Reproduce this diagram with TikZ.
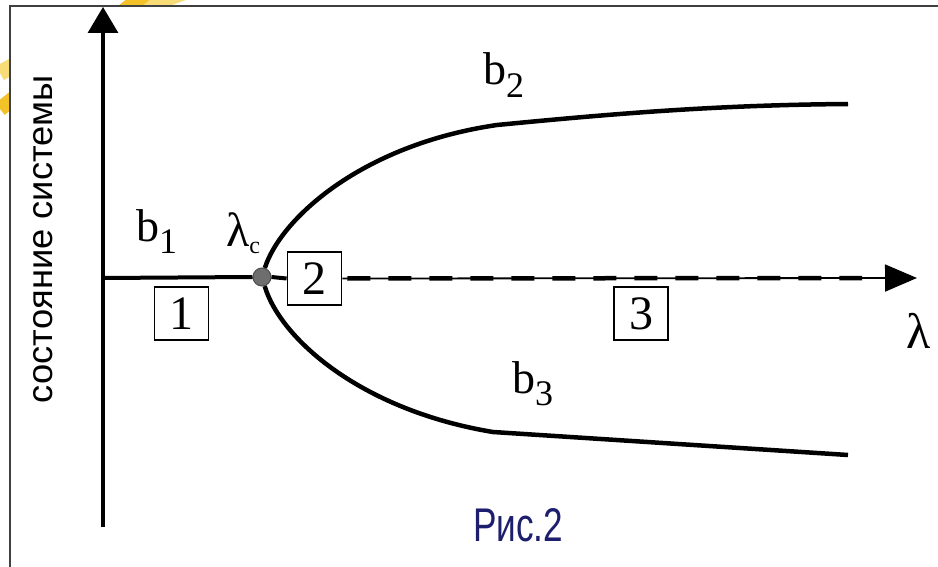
\documentclass[tikz,border=0pt]{standalone}
\usepackage{fontspec}
\setmainfont{Liberation Serif}
\setsansfont{Liberation Sans}
\usetikzlibrary{arrows.meta}
\definecolor{swooshlight}{RGB}{248,220,120}
\definecolor{swooshdark}{RGB}{242,194,40}
\definecolor{capblue}{RGB}{30,30,110}
\definecolor{pointgray}{RGB}{110,110,110}
\newcommand{\sublab}[3]{#1\raisebox{-#3}{\fontsize{36}{36}\selectfont #2}}
\begin{document}
\begin{tikzpicture}[x=1pt,y=-1pt,
  frameline/.style={line width=2pt, draw=black!75},
  axisline/.style={line width=3.2pt, draw=black},
  hline/.style={line width=4pt, draw=black},
  branch/.style={line width=4.5pt, draw=black},
  numbox/.style={draw=black, line width=1.8pt, fill=white, minimum width=54pt, minimum height=53pt, inner sep=0pt, font=\fontsize{48}{48}\selectfont},
  lbl/.style={inner sep=0pt, anchor=base west, font=\fontsize{46}{46}\selectfont},
  ]
\useasboundingbox (0,0) rectangle (938,567);
\fill[white] (0,0) rectangle (938,567);
% yellow swoosh outside the frame
\begin{scope}
  \clip (0,0) rectangle (938,6) (0,0) rectangle (10,567);
  \draw[line width=16pt, swooshlight] (0,73) .. controls (60,40) and (120,15) .. (190,-10);
  \draw[line width=15pt, swooshdark] (0,109) .. controls (50,70) and (100,30) .. (150,-10);
\end{scope}
% frame
\draw[frameline] (10,567) -- (10,6.5) -- (938,6.5);

% coordinates
\coordinate (O) at (103,278);
\coordinate (ybot) at (103,527);
\coordinate (ytop) at (103,7);
\coordinate (xtip) at (917,278);
\coordinate (dend) at (862,278);
\coordinate (u1) at (497,125);
\coordinate (uend) at (848,104);
\coordinate (l1) at (493,432);
\coordinate (lend) at (848,455);

% nodes
\node[circle, fill=pointgray, draw=black!70, line width=1pt, minimum size=18pt, inner sep=0pt] (lc) at (262,277) {};
\node[numbox] (box1) at (181.5,313.5) {1};
\node[numbox] (box2) at (314.5,278.5) {2};
\node[numbox] (box3) at (641,313.5) {3};

% axes
\draw[axisline, -{Triangle[length=26pt,width=30pt]}] (ybot) -- (ytop);
\draw[hline] (O) -- (lc.west);
\draw[hline] (lc.east) -- (box2.west);
\draw[line width=1.8pt, -{Triangle[length=32pt,width=27pt]}] (box2.east) -- (xtip);
\draw[line width=4.5pt, dash pattern=on 23pt off 18pt] ([xshift=5pt]box2.east) -- (dend);

% branches
\draw[branch] (lc) .. controls (280,220) and (360,145) .. (u1) .. controls (620,113) and (720,105) .. (uend);
\draw[branch] (lc) .. controls (280,338) and (360,410) .. (l1) -- (lend);

% labels
\node[lbl] (b1) at (136,242) {\sublab{b}{1}{11pt}};
\node[lbl] (b2) at (483,85) {\sublab{b}{2}{13pt}};
\node[lbl] (b3) at (512,393) {\sublab{b}{3}{12pt}};
\node[lbl, font=\fontsize{48}{48}\selectfont] (lcl) at (226,247) {λ\raisebox{-6pt}{\fontsize{24}{24}\selectfont c}};
\node[lbl, font=\fontsize{50}{50}\selectfont] (lam) at (906,348) {λ};

\node[rotate=90, inner sep=0pt] (ylab) at (43,239) {\resizebox{328pt}{19pt}{\sffamily состояние системы}};
\node[inner sep=0pt, anchor=north west, text=capblue] (cap) at (473,508) {\resizebox{90pt}{33pt}{\sffamily Рис.2}};
\end{tikzpicture}
\end{document}
